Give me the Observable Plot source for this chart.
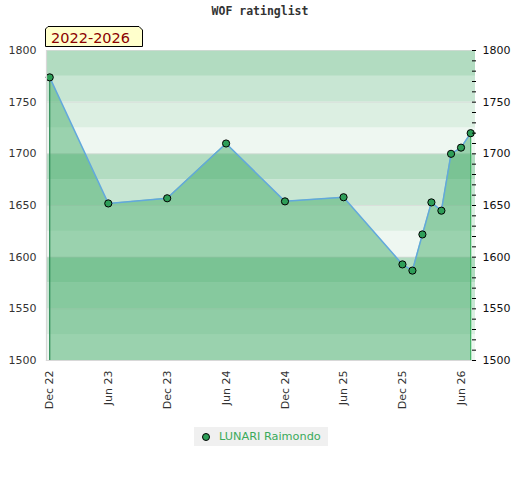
<!DOCTYPE html>
<html>
<head>
<meta charset="utf-8">
<script src="https://cdn.jsdelivr.net/npm/d3@7"></script>
<script src="https://cdn.jsdelivr.net/npm/@observablehq/plot@0.6"></script>
<style>
  html, body { margin: 0; padding: 0; background: #fff; }
  #wrap { position: relative; width: 520px; height: 480px; font-family: "DejaVu Sans", sans-serif; }
  #title { position: absolute; left: 0; top: 4px; width: 520px; text-align: center;
           font-family: "DejaVu Sans Mono", monospace; font-weight: bold; font-size: 11.5px; color: #333; }
  #period { position: absolute; left: 44px; top: 25px; }
  #legend { position: absolute; left: 194px; top: 427px; width: 134px; height: 19px; background: #f0f0f0;
            font-family: "DejaVu Sans", sans-serif; font-size: 11.3px; color: #3aaa5a; line-height: 19px; }
  #legend .dot { position: absolute; left: 8px; top: 5.5px; width: 6px; height: 6px; border-radius: 50%;
                 background: #2e9e58; border: 1px solid #000; }
  #legend .lab { position: absolute; left: 25px; top: 0; white-space: nowrap; }
  #chart { position: absolute; left: 0; top: 0; }
</style>
</head>
<body>
<div id="wrap">
  <div id="chart"></div>
  <div id="title">WOF ratinglist</div>
  <svg id="period" width="100" height="24">
    <polygon points="4,1.5 95,1.5 98.5,5 98.5,21.5 1.5,21.5 1.5,4" fill="#ffffcc" stroke="#000" stroke-width="1"/>
    <text x="7" y="17.5" font-family="DejaVu Sans" font-size="14.5" fill="#8b0000">2022-2026</text>
  </svg>
  <div id="legend"><span class="dot"></span><span class="lab">LUNARI Raimondo</span></div>
</div>
<script>
// ---- data ----
const dates = ["2022-12-01","2023-06-01","2023-12-01","2024-06-01","2024-12-01","2025-06-01",
               "2025-12-01","2026-01-01","2026-02-01","2026-03-01","2026-04-01","2026-05-01",
               "2026-06-01","2026-07-01"];
const ratings = [1774, 1652, 1657, 1710, 1654, 1658, 1593, 1587, 1622, 1653, 1645, 1700, 1706, 1720];
const player = "LUNARI Raimondo";
const xTickDates = ["2022-12-01","2023-06-01","2023-12-01","2024-06-01","2024-12-01","2025-06-01","2025-12-01","2026-06-01"];
const yTickLabels = [1500, 1550, 1600, 1650, 1700, 1750, 1800];
const yMinorTicks = [1500,1510,1520,1530,1540,1550,1560,1570,1580,1590,1600,1610,1620,1630,1640,1650,
                     1660,1670,1680,1690,1700,1710,1720,1730,1740,1750,1760,1770,1780,1790,1800];
const bandLows = [1500, 1525, 1550, 1575, 1600, 1625, 1650, 1675, 1700, 1725, 1750, 1775];

// ---- styles ----
const bandPalette = ["#eef7f1", "#dcefe2", "#c8e6d3", "#b2dcc1"]; // by position within each 100 block
const parse = d3.utcParse("%Y-%m-%d");
const data = dates.map((d, i) => ({date: parse(d), rating: ratings[i]}));
const bands = bandLows.map(v => ({lo: v, hi: v + 25, color: bandPalette[((v - 1500) / 25) % 4]}));
const first = data[0], last = data[data.length - 1];

const chart = Plot.plot({
  width: 520,
  height: 480,
  marginTop: 50,
  marginBottom: 120,
  marginLeft: 46,
  marginRight: 45,
  style: {fontFamily: "DejaVu Sans", fontSize: "11px", color: "#333", background: "transparent"},
  x: {type: "utc", domain: [parse("2022-11-21"), parse("2026-07-16")]},
  y: {domain: [1500, 1800]},
  color: {type: "identity"},
  marks: [
    Plot.rect(bands, {y1: "lo", y2: "hi", fill: "color"}),
    Plot.ruleY(yTickLabels, {stroke: "#d8d8d8", strokeOpacity: 0.7}),
    Plot.areaY(data, {x: "date", y1: 1500, y2: "rating", fill: "#3ba862", fillOpacity: 0.47}),
    Plot.ruleX([first], {x: "date", y1: 1500, y2: "rating", stroke: "#2e8b57", strokeWidth: 1.2}),
    Plot.ruleX([last], {x: "date", y1: 1500, y2: "rating", stroke: "#3cb060", strokeWidth: 1.2}),
    Plot.line(data, {x: "date", y: "rating", stroke: "#62a8dc", strokeWidth: 1.5}),
    Plot.dot(data, {x: "date", y: "rating", r: 3.6, fill: "#2e9e58", stroke: "#000", strokeWidth: 1}),
    Plot.frame({stroke: "#d8d8d8", strokeWidth: 1.2, anchor: "left"}),
    Plot.frame({stroke: "#d8d8d8", strokeWidth: 1.2, anchor: "bottom"}),
    Plot.axisX({ticks: xTickDates.map(parse), tickFormat: d3.utcFormat("%b %y"), tickRotate: -90,
                tickSize: 0, tickPadding: 10, label: null, fill: "#333"}),
    Plot.axisY({anchor: "left", ticks: yTickLabels, tickFormat: d3.format("d"), tickSize: 0, tickPadding: 10, label: null, fill: "#333"}),
    Plot.axisY({anchor: "right", ticks: yMinorTicks, tickSize: 4, tickFormat: () => "", dx: -4, label: null, stroke: "#000"}),
    Plot.axisY({anchor: "right", ticks: yTickLabels, tickFormat: d3.format("d"), tickSize: 0, tickPadding: 7, label: null, fill: "#111"})
  ]
});
document.getElementById("chart").appendChild(chart);
</script>
</body>
</html>
